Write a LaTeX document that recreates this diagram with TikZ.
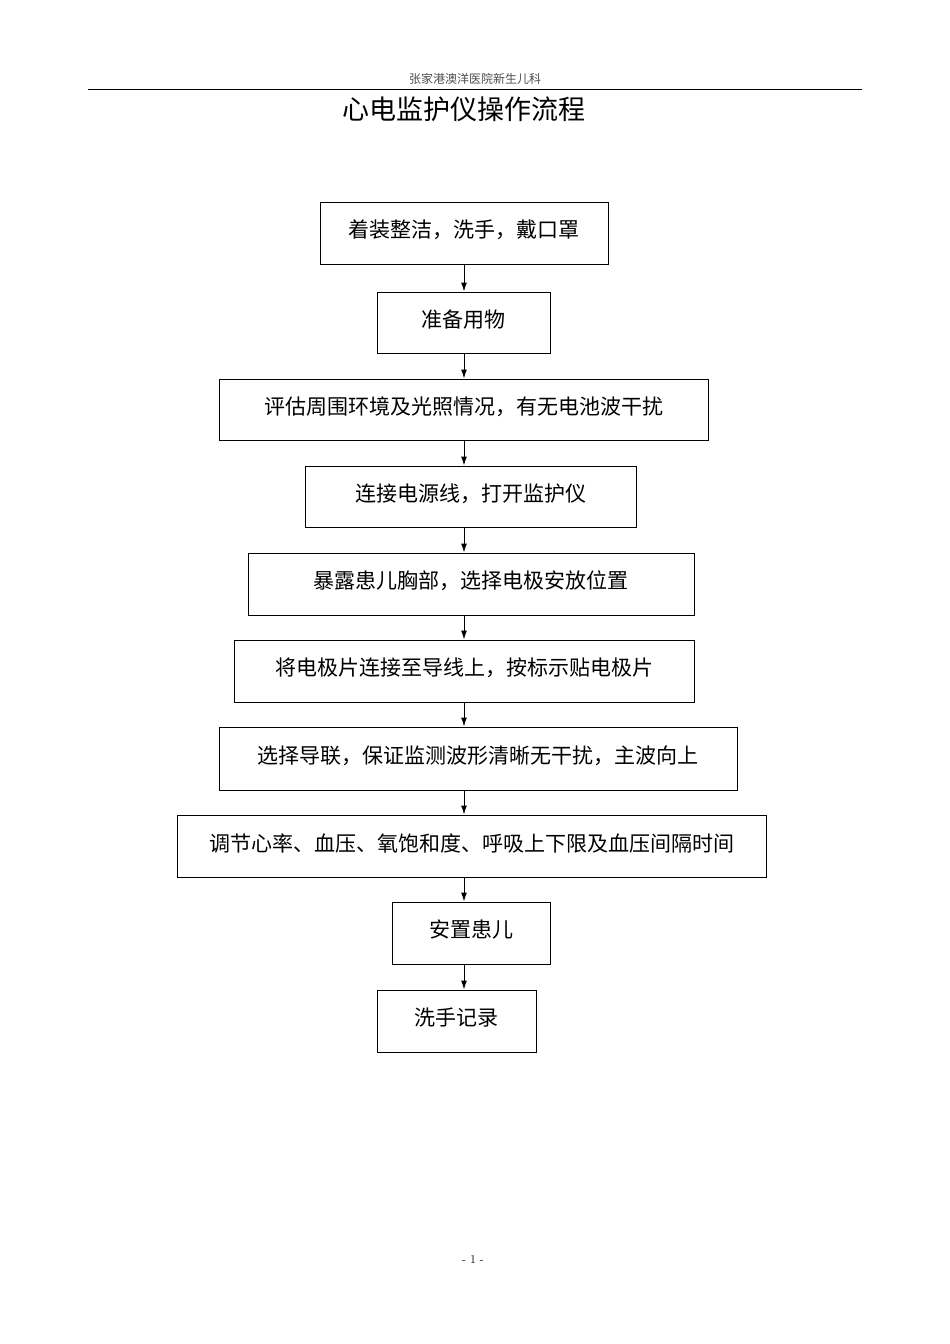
\documentclass[tikz,border=0pt]{standalone}
\usepackage{fontspec}
\usetikzlibrary{arrows.meta}
\newfontfamily\cjk{Noto Sans CJK SC}
\begin{document}
\begin{tikzpicture}[x=1pt,y=-1pt,
  bx/.style={draw,line width=1pt,inner sep=0},
  tx/.style={font=\cjk\fontsize{21}{24}\selectfont},
  arr/.style={-{Latex[length=9pt,width=6pt]},line width=1pt}]
\useasboundingbox (0,0) rectangle (950,1344);
\node[font=\cjk\fontsize{12}{14}\selectfont,text=black!70] (hdr) at (475,79) {张家港澳洋医院新生儿科};
\draw[line width=0.8pt] (88,89) -- (862,89);
\node[font=\cjk\fontsize{27}{30}\selectfont] (title) at (464,109) {心电监护仪操作流程};
\newcommand\bxn[6]{\node[bx,minimum width=#4-#2,minimum height=#5-#3] (#1) at ({(#2+#4)/2},{(#3+#5)/2}) {};
  \node[tx] (#1t) at ({(#2+#4)/2},{(#3+#5)/2-3}) {#6};}
\bxn{b1}{320}{202}{608}{264}{着装整洁，洗手，戴口罩}
\bxn{b2}{377}{292}{550}{353}{准备用物}
\bxn{b3}{219}{379}{708}{440}{评估周围环境及光照情况，有无电池波干扰}
\bxn{b4}{305}{466}{636}{527}{连接电源线，打开监护仪}
\bxn{b5}{248}{553}{694}{615}{暴露患儿胸部，选择电极安放位置}
\bxn{b6}{234}{640}{694}{702}{将电极片连接至导线上，按标示贴电极片}
\bxn{b7}{219}{727}{737}{790}{选择导联，保证监测波形清晰无干扰，主波向上}
\bxn{b8}{177}{815}{766}{877}{调节心率、血压、氧饱和度、呼吸上下限及血压间隔时间}
\bxn{b9}{392}{902}{550}{964}{安置患儿}
\bxn{b10}{377}{990}{536}{1052}{洗手记录}
\coordinate (ax) at (464,0);
\foreach \a/\b in {b1/b2,b2/b3,b3/b4,b4/b5,b5/b6,b6/b7,b7/b8,b8/b9,b9/b10}
  \draw[arr] (\a.south -| ax) -- (\b.north -| ax);
\node[font=\fontsize{12}{14}\selectfont] (ft) at (473,1259) {- 1 -};
\end{tikzpicture}
\end{document}
